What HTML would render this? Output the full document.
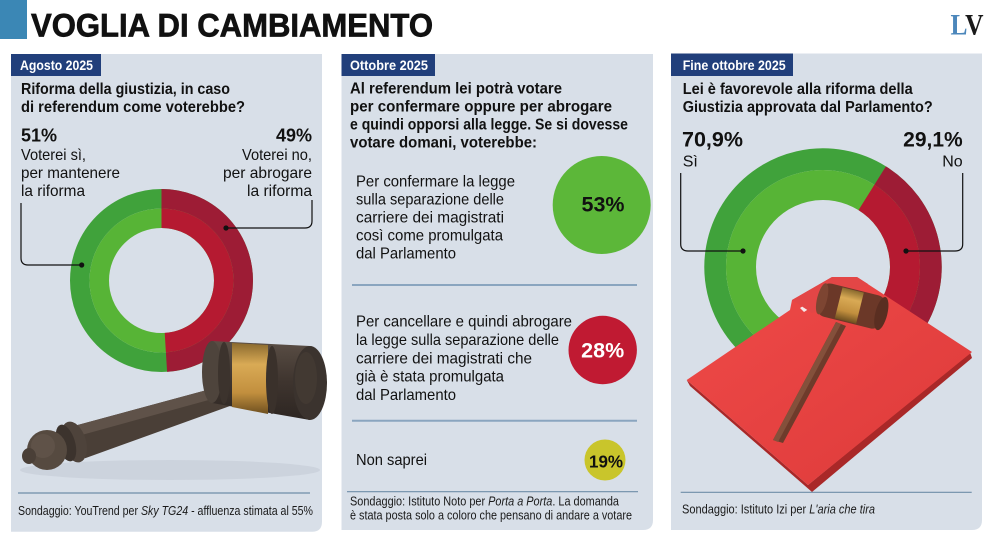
<!DOCTYPE html>
<html><head><meta charset="utf-8"><style>
html,body{margin:0;padding:0;background:#fff;}
svg{display:block;}
text{font-family:"Liberation Sans",Arial,sans-serif;fill:#111;}
.b{font-weight:700;}
.q{font-weight:700;font-size:16px;}
.r{font-size:16px;}
.f{font-size:12.5px;fill:#1a1a1a;}
.tag{font-weight:700;font-size:13.5px;fill:#fff;}
</style></head><body>
<svg width="993" height="540" viewBox="0 0 993 540" xmlns="http://www.w3.org/2000/svg">
<defs>
<linearGradient id="gold" x1="0" y1="0" x2="0" y2="1">
<stop offset="0" stop-color="#8a6a2e"/><stop offset="0.3" stop-color="#d9aa55"/><stop offset="0.7" stop-color="#c28f3e"/><stop offset="1" stop-color="#6e5020"/>
</linearGradient>
<linearGradient id="wood" x1="0" y1="0" x2="0" y2="1">
<stop offset="0" stop-color="#5a4e45"/><stop offset="0.5" stop-color="#3f352f"/><stop offset="1" stop-color="#2d2622"/>
</linearGradient>
<linearGradient id="folder" x1="0" y1="0" x2="1" y2="1">
<stop offset="0" stop-color="#ef4a48"/><stop offset="1" stop-color="#dd3a3a"/>
</linearGradient>
</defs>
<rect width="993" height="540" fill="#fff"/>
<!-- header -->
<rect x="0" y="0" width="27" height="39" fill="#3b87b5"/>
<text x="31" y="36.7" class="b" font-size="32" textLength="402" lengthAdjust="spacingAndGlyphs" stroke="#111" stroke-width="0.7">VOGLIA DI CAMBIAMENTO</text>
<text x="950.5" y="34.3" font-family="Liberation Serif,serif" font-weight="700" font-size="30" textLength="33" lengthAdjust="spacingAndGlyphs" style="font-family:'Liberation Serif',serif"><tspan fill="#4c87bb">L</tspan><tspan fill="#1a1a1a">V</tspan></text>

<!-- PANEL 1 -->
<path d="M11 54 H322 V521.7 Q322 531.7 312 531.7 H11 Z" fill="#d8dfe8"/>
<rect x="11" y="54" width="90" height="22" fill="#213f7b"/>
<text x="20" y="70" class="tag" textLength="73" lengthAdjust="spacingAndGlyphs">Agosto 2025</text>
<text x="21" y="94" class="q" textLength="209" lengthAdjust="spacingAndGlyphs">Riforma della giustizia, in caso</text>
<text x="21" y="112" class="q" textLength="224" lengthAdjust="spacingAndGlyphs">di referendum come voterebbe?</text>
<text x="21" y="141.5" class="b" font-size="18">51%</text>
<text x="312" y="141.5" class="b" font-size="18" text-anchor="end">49%</text>
<text x="21" y="160" class="r" textLength="65" lengthAdjust="spacingAndGlyphs">Voterei sì,</text>
<text x="21" y="178" class="r" textLength="99" lengthAdjust="spacingAndGlyphs">per mantenere</text>
<text x="21" y="196" class="r" textLength="64" lengthAdjust="spacingAndGlyphs">la riforma</text>
<text x="242" y="160" class="r" textLength="70" lengthAdjust="spacingAndGlyphs">Voterei no,</text>
<text x="223" y="178" class="r" textLength="89" lengthAdjust="spacingAndGlyphs">per abrogare</text>
<text x="247" y="196" class="r" textLength="65" lengthAdjust="spacingAndGlyphs">la riforma</text>
<!-- donut 1 -->
<g transform="rotate(-90 161.5 280.5)">
<circle cx="161.5" cy="280.5" r="81.75" fill="none" stroke="#40a23b" stroke-width="19.5"/>
<circle cx="161.5" cy="280.5" r="62.25" fill="none" stroke="#57b436" stroke-width="19.5"/>
<circle cx="161.5" cy="280.5" r="81.75" fill="none" stroke="#9d1c35" stroke-width="19.5" stroke-dasharray="251.69 600"/>
<circle cx="161.5" cy="280.5" r="62.25" fill="none" stroke="#b51a31" stroke-width="19.5" stroke-dasharray="191.65 600"/>
</g>
<path d="M21 203 V258 Q21 265 28 265 H81.7" fill="none" stroke="#111" stroke-width="1.2"/>
<circle cx="81.7" cy="265" r="2.6" fill="#111"/>
<path d="M312 200 V221 Q312 228 305 228 H226" fill="none" stroke="#111" stroke-width="1.2"/>
<circle cx="226" cy="228" r="2.6" fill="#111"/>
<!-- gavel 1 -->
<ellipse cx="170" cy="470" rx="150" ry="10" fill="#c5ccd5" opacity="0.6"/>
<polygon points="242,380.5 248,399.5 85.1,458.2 74.9,425.8" fill="#4a3f37"/>
<polygon points="242,380.5 245,390 78,436 74.9,425.8" fill="#5f5249"/>
<ellipse cx="74" cy="442" rx="12" ry="21" transform="rotate(-17 74 442)" fill="#4e433b"/>
<ellipse cx="66" cy="443" rx="9" ry="19" transform="rotate(-17 66 443)" fill="#3c332d"/>
<circle cx="47" cy="450" r="20" fill="#564a40"/>
<circle cx="43" cy="446" r="12" fill="#66594e" opacity="0.6"/>
<ellipse cx="29" cy="456" rx="7" ry="8" fill="#4a3f37"/>
<!-- head -->
<path d="M212 341 L310 346 L310 420 L212 403 Z" fill="url(#wood)"/>
<ellipse cx="212" cy="372" rx="10" ry="31" fill="#4e443c"/>
<path d="M232 343 L268 345 L268 414 L232 407 Z" fill="url(#gold)"/>
<ellipse cx="224" cy="373" rx="6" ry="31" fill="#3c332d"/>
<ellipse cx="272" cy="380" rx="6" ry="34" fill="#3a312b"/>
<ellipse cx="310" cy="383" rx="17" ry="37" fill="#3b332e"/>
<ellipse cx="306" cy="378" rx="11" ry="26" fill="#463c35" opacity="0.7"/>
<line x1="18" y1="493" x2="310" y2="493" stroke="#6f8ea8" stroke-width="1.2"/>
<text x="18" y="515" class="f" textLength="295" lengthAdjust="spacingAndGlyphs">Sondaggio: YouTrend per <tspan font-style="italic">Sky TG24</tspan> - affluenza stimata al 55%</text>

<!-- PANEL 2 -->
<path d="M341.5 54 H653 V520 Q653 530 643 530 H341.5 Z" fill="#d8dfe8"/>
<rect x="341.5" y="54" width="93.5" height="22" fill="#213f7b"/>
<text x="350" y="70" class="tag" textLength="78" lengthAdjust="spacingAndGlyphs">Ottobre 2025</text>
<text x="350" y="93.3" class="q" textLength="212" lengthAdjust="spacingAndGlyphs">Al referendum lei potrà votare</text>
<text x="350" y="111.5" class="q" textLength="262" lengthAdjust="spacingAndGlyphs">per confermare oppure per abrogare</text>
<text x="350" y="129.5" class="q" textLength="278" lengthAdjust="spacingAndGlyphs">e quindi opporsi alla legge. Se si dovesse</text>
<text x="350" y="147.3" class="q" textLength="187" lengthAdjust="spacingAndGlyphs">votare domani, voterebbe:</text>

<text x="356" y="186.7" class="r" textLength="159" lengthAdjust="spacingAndGlyphs">Per confermare la legge</text>
<text x="356" y="204.6" class="r" textLength="148" lengthAdjust="spacingAndGlyphs">sulla separazione delle</text>
<text x="356" y="222.5" class="r" textLength="148" lengthAdjust="spacingAndGlyphs">carriere dei magistrati</text>
<text x="356" y="240.4" class="r" textLength="147" lengthAdjust="spacingAndGlyphs">così come promulgata</text>
<text x="356" y="258.3" class="r" textLength="100" lengthAdjust="spacingAndGlyphs">dal Parlamento</text>
<circle cx="601.7" cy="205" r="49" fill="#5cb739"/>
<text x="603" y="211.7" class="b" font-size="21" text-anchor="middle" textLength="43" lengthAdjust="spacingAndGlyphs">53%</text>
<line x1="352" y1="285" x2="637" y2="285" stroke="#8aa5bf" stroke-width="2"/>

<text x="356" y="326.7" class="r" textLength="216" lengthAdjust="spacingAndGlyphs">Per cancellare e quindi abrogare</text>
<text x="356" y="345" class="r" textLength="203" lengthAdjust="spacingAndGlyphs">la legge sulla separazione delle</text>
<text x="356" y="363.3" class="r" textLength="176" lengthAdjust="spacingAndGlyphs">carriere dei magistrati che</text>
<text x="356" y="381.7" class="r" textLength="148" lengthAdjust="spacingAndGlyphs">già è stata promulgata</text>
<text x="356" y="400" class="r" textLength="100" lengthAdjust="spacingAndGlyphs">dal Parlamento</text>
<circle cx="602.7" cy="350" r="34.2" fill="#c01a32"/>
<text x="602.7" y="357.3" class="b" font-size="21" text-anchor="middle" style="fill:#fff" textLength="43" lengthAdjust="spacingAndGlyphs">28%</text>
<line x1="352" y1="420.7" x2="637" y2="420.7" stroke="#8aa5bf" stroke-width="2"/>

<text x="356" y="465" class="r" textLength="71" lengthAdjust="spacingAndGlyphs">Non saprei</text>
<circle cx="605" cy="460" r="20.5" fill="#c9c52b"/>
<text x="606" y="467.3" class="b" font-size="17.5" text-anchor="middle" textLength="34" lengthAdjust="spacingAndGlyphs">19%</text>
<line x1="347" y1="491.7" x2="638" y2="491.7" stroke="#6f8ea8" stroke-width="1.2"/>
<text x="350" y="505.7" class="f" textLength="269" lengthAdjust="spacingAndGlyphs">Sondaggio: Istituto Noto per <tspan font-style="italic">Porta a Porta</tspan>. La domanda</text>
<text x="350" y="519.5" class="f" textLength="282" lengthAdjust="spacingAndGlyphs">è stata posta solo a coloro che pensano di andare a votare</text>

<!-- PANEL 3 -->
<path d="M671 53.5 H982 V520 Q982 530 972 530 H671 Z" fill="#d8dfe8"/>
<rect x="671" y="53.5" width="122" height="22.5" fill="#213f7b"/>
<text x="682.7" y="70" class="tag" textLength="103" lengthAdjust="spacingAndGlyphs">Fine ottobre 2025</text>
<text x="682.7" y="94" class="q" textLength="230" lengthAdjust="spacingAndGlyphs">Lei è favorevole alla riforma della</text>
<text x="682.7" y="112" class="q" textLength="250" lengthAdjust="spacingAndGlyphs">Giustizia approvata dal Parlamento?</text>
<text x="682" y="146.7" class="b" font-size="21" textLength="61" lengthAdjust="spacingAndGlyphs">70,9%</text>
<text x="962.7" y="146.7" class="b" font-size="21" text-anchor="end">29,1%</text>
<text x="682.7" y="166.7" class="r">Sì</text>
<text x="962.7" y="166.7" class="r" text-anchor="end">No</text>
<!-- donut 3 -->
<g transform="rotate(-58 823 267)">
<circle cx="823" cy="267" r="107.85" fill="none" stroke="#40a23b" stroke-width="21.7"/>
<circle cx="823" cy="267" r="82" fill="none" stroke="#57b436" stroke-width="30"/>
<circle cx="823" cy="267" r="107.85" fill="none" stroke="#9d1c35" stroke-width="21.7" stroke-dasharray="197.2 800"/>
<circle cx="823" cy="267" r="82" fill="none" stroke="#b51a31" stroke-width="30" stroke-dasharray="149.93 800"/>
</g>
<path d="M680.7 173 V244 Q680.7 251 688 251 H743" fill="none" stroke="#111" stroke-width="1.2"/>
<circle cx="743" cy="251" r="2.6" fill="#111"/>
<path d="M962.7 173 V244 Q962.7 251 955 251 H906" fill="none" stroke="#111" stroke-width="1.2"/>
<circle cx="906" cy="251" r="2.6" fill="#111"/>
<!-- folder -->
<polygon points="690,386 812,492 972,358 970,352 808,485 686.7,380" fill="#a92828"/>
<polygon points="686.7,380 790,310 792,300 832,277 857,277 972,352 808,485" fill="url(#folder)"/>
<polygon points="800,308 845,280 850,282 804,312" fill="#f4e8e8"/>
<polygon points="792,300 832,277 857,277 868,284 812,313" fill="#e34646"/>
<!-- gavel 3 -->
<polygon points="836,322 846,326 783,443 773,440" fill="#6e3b2b"/>
<polygon points="836,322 841,324 778,442 773,440" fill="#84503b"/>
<g transform="rotate(14 851 307)">
<rect x="818" y="289" width="66" height="34" rx="9" fill="#6b3828"/>
<rect x="838" y="290" width="22" height="32" fill="url(#gold)"/>
<ellipse cx="882" cy="306" rx="6" ry="17" fill="#5a2e21"/>
<ellipse cx="821" cy="306" rx="5" ry="16" fill="#7d4532"/>
</g>
<line x1="680.7" y1="492.3" x2="971.7" y2="492.3" stroke="#6f8ea8" stroke-width="1.2"/>
<text x="682" y="513.3" class="f" textLength="193" lengthAdjust="spacingAndGlyphs">Sondaggio: Istituto Izi per <tspan font-style="italic">L'aria che tira</tspan></text>
</svg>
</body></html>
